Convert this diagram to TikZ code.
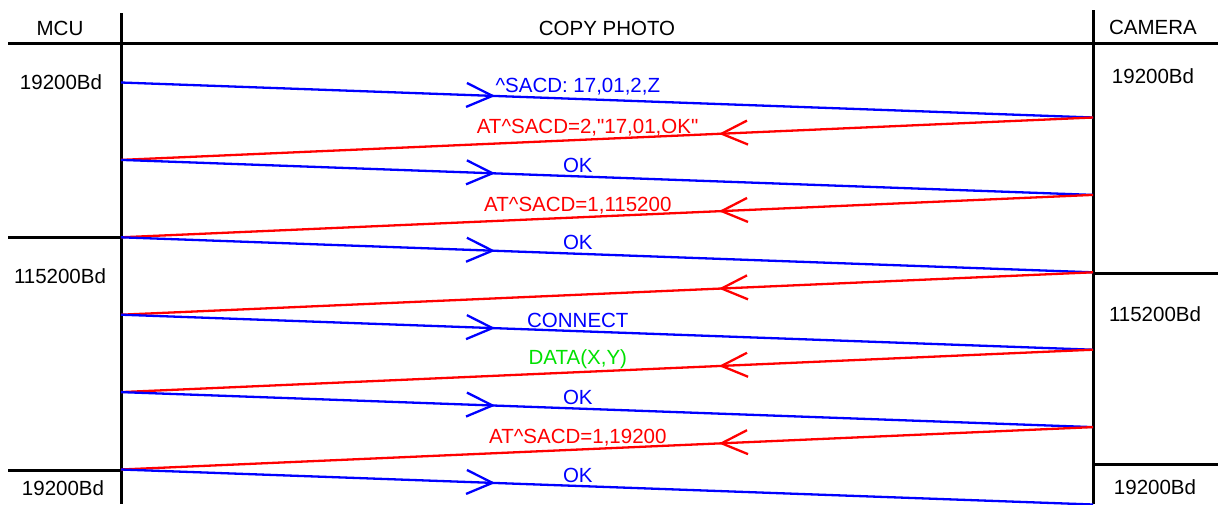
\documentclass[tikz,border=0pt]{standalone}
\usepackage{fontspec}
\setmainfont{Liberation Sans}
\usepackage{tikz}
\usetikzlibrary{arrows.meta,decorations.markings}
\definecolor{mcublue}{RGB}{0,0,255}
\definecolor{camred}{RGB}{255,0,0}
\definecolor{datagreen}{RGB}{0,225,0}

\begin{document}
\begin{tikzpicture}[
    x=1pt, y=-1pt,
    every node/.style={font=\fontsize{20.5}{24}\selectfont},
    frame/.style={line width=3pt, black},
    msg/.style={line width=2.3pt, postaction={decorate},
        decoration={markings, mark=at position 0.385 with {\arrow{Straight Barb[length=26pt,width=24pt]}}}},
    tomcu/.style={msg, draw=mcublue},
    tocam/.style={msg, draw=camred},
    lbl/.style={above, inner sep=2.5pt}
]
    \useasboundingbox (0,0) rectangle (1218,504);

    % frame
    \draw[frame] (8,43) -- (1218,43);
    \draw[frame] (121,13) -- (121,504);
    \draw[frame] (1093,10) -- (1093,504);
    \draw[frame] (8,237) -- (121,237);
    \draw[frame] (8,470) -- (121,470);
    \draw[frame] (1093,273) -- (1218,273);
    \draw[frame] (1093,464) -- (1218,464);

    \node (mcu) at (60,28) {MCU};
    \node (title) at (607,28) {COPY PHOTO};
    \node (camera) at (1153,27) {CAMERA};

    \node (mcubaud1) at (61,82) {19200Bd};
    \node (mcubaud2) at (60,276) {115200Bd};
    \node (mcubaud3) at (63,488) {19200Bd};
    \node (cambaud1) at (1153,76) {19200Bd};
    \node (cambaud2) at (1155,314) {115200Bd};
    \node (cambaud3) at (1155,487) {19200Bd};

    % lifeline points
    \foreach \i in {0,...,5} {
        \coordinate (mcu\i) at (121,82.5+77.4*\i);
        \coordinate (cam\i) at (1093,117.5+77.4*\i);
    }

    \draw[tomcu] (mcu0) -- node[lbl, pos=0.47, text=mcublue] {\textasciicircum SACD: 17,01,2,Z} (cam0);
    \draw[tocam] (cam0) -- node[lbl, pos=0.52, text=camred] {AT\textasciicircum SACD=2,\textquotedbl 17,01,OK\textquotedbl} (mcu1);
    \draw[tomcu] (mcu1) -- node[lbl, pos=0.47, text=mcublue] {OK} (cam1);
    \draw[tocam] (cam1) -- node[lbl, pos=0.53, text=camred] {AT\textasciicircum SACD=1,115200} (mcu2);
    \draw[tomcu] (mcu2) -- node[lbl, pos=0.47, text=mcublue] {OK} (cam2);
    \draw[tocam] (cam2) -- (mcu3);
    \draw[tomcu] (mcu3) -- node[lbl, pos=0.47, text=mcublue] {CONNECT} (cam3);
    \draw[tocam] (cam3) -- node[lbl, pos=0.53, text=datagreen] {DATA(X,Y)} (mcu4);
    \draw[tomcu] (mcu4) -- node[lbl, pos=0.47, text=mcublue] {OK} (cam4);
    \draw[tocam] (cam4) -- node[lbl, pos=0.53, text=camred] {AT\textasciicircum SACD=1,19200} (mcu5);
    \draw[tomcu] (mcu5) -- node[lbl, pos=0.47, text=mcublue] {OK} (cam5);
\end{tikzpicture}
\end{document}
